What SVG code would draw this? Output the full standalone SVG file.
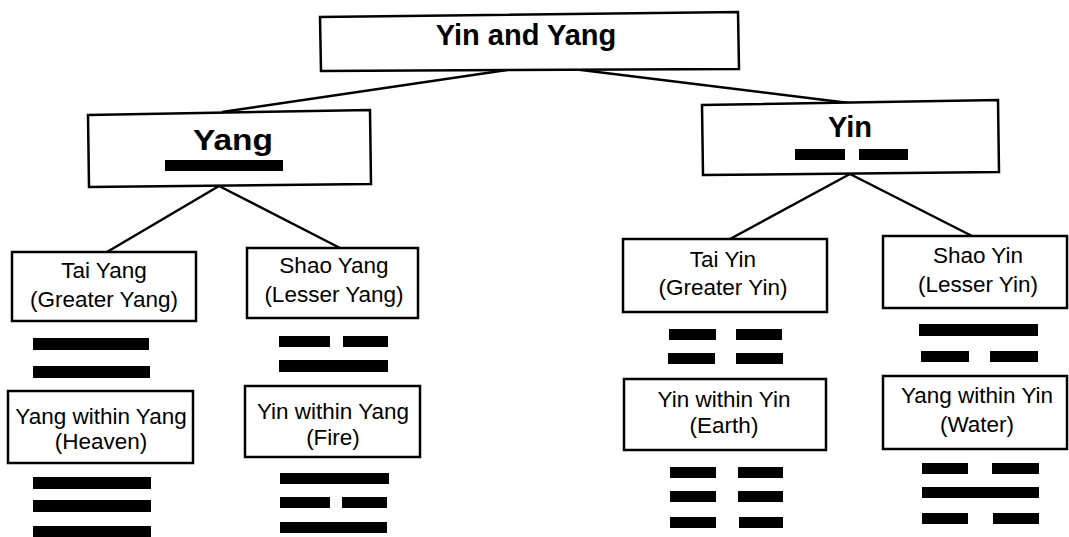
<svg xmlns="http://www.w3.org/2000/svg" width="1069" height="537" viewBox="0 0 1069 537">
<style>
.box{fill:#fff;stroke:#000;stroke-width:2.5}
.ln{stroke:#000;stroke-width:2.5;fill:none}
.t{font-family:"Liberation Sans",Arial,sans-serif;font-size:22.5px;fill:#000;text-anchor:middle}
.b{font-family:"Liberation Sans",Arial,sans-serif;font-weight:bold;font-size:29px;fill:#000;text-anchor:middle}
.bar{fill:#000}
</style>
<rect width="1069" height="537" fill="#fff"/>
<g id="connectors">
<line class="ln" x1="507" y1="70" x2="222" y2="112"/>
<line class="ln" x1="573" y1="69" x2="849" y2="103"/>
<line class="ln" x1="219" y1="186" x2="107" y2="252"/>
<line class="ln" x1="219" y1="186" x2="340" y2="248"/>
<line class="ln" x1="850" y1="174" x2="730" y2="239"/>
<line class="ln" x1="850" y1="174" x2="972" y2="236"/>
</g>
<g id="root">
<polygon class="box" points="320,17 738,12 739,69 321,71"/>
<text class="b" x="526" y="45">Yin and Yang</text>
</g>
<g id="yang">
<polygon class="box" points="88,115 370,110 371,184 89,187"/>
<text class="b" x="233" y="150" font-size="30" textLength="80" lengthAdjust="spacingAndGlyphs">Yang</text>
<rect class="bar" x="165" y="160" width="118" height="11"/>
</g>
<g id="yin">
<polygon class="box" points="702,105 998,100 999,172 703,175"/>
<text class="b" x="850" y="137">Yin</text>
<rect class="bar" x="795" y="149" width="50" height="11"/>
<rect class="bar" x="859" y="149" width="49" height="11"/>
</g>
<g id="tai-yang">
<rect class="box" x="12" y="252" width="184" height="69"/>
<text class="t" x="104" y="278">Tai Yang</text>
<text class="t" x="104" y="307">(Greater Yang)</text>
<rect class="bar" x="33" y="338" width="116" height="12"/>
<rect class="bar" x="33" y="366" width="117" height="12"/>
</g>
<g id="yang-within-yang">
<rect class="box" x="8" y="391" width="185" height="72"/>
<text class="t" x="101" y="424">Yang within Yang</text>
<text class="t" x="101" y="449">(Heaven)</text>
<rect class="bar" x="33" y="477" width="118" height="12"/>
<rect class="bar" x="33" y="500" width="118" height="12"/>
<rect class="bar" x="33" y="526" width="118" height="11"/>
</g>
<g id="shao-yang">
<rect class="box" x="247" y="248" width="171" height="70"/>
<text class="t" x="334" y="273">Shao Yang</text>
<text class="t" x="334" y="302">(Lesser Yang)</text>
<rect class="bar" x="279" y="336" width="51" height="11"/>
<rect class="bar" x="343" y="336" width="45" height="11"/>
<rect class="bar" x="279" y="360" width="109" height="12"/>
</g>
<g id="yin-within-yang">
<rect class="box" x="245" y="386" width="175" height="71"/>
<text class="t" x="333" y="419">Yin within Yang</text>
<text class="t" x="333" y="445">(Fire)</text>
<rect class="bar" x="280" y="473" width="109" height="11"/>
<rect class="bar" x="280" y="497" width="50" height="11"/>
<rect class="bar" x="342" y="497" width="45" height="11"/>
<rect class="bar" x="280" y="522" width="107" height="11"/>
</g>
<g id="tai-yin">
<rect class="box" x="623" y="239" width="204" height="73"/>
<text class="t" x="723" y="267">Tai Yin</text>
<text class="t" x="723" y="295">(Greater Yin)</text>
<rect class="bar" x="669" y="329" width="47" height="11"/>
<rect class="bar" x="736" y="329" width="46" height="11"/>
<rect class="bar" x="668" y="353" width="47" height="11"/>
<rect class="bar" x="736" y="353" width="47" height="11"/>
</g>
<g id="yin-within-yin">
<rect class="box" x="624" y="379" width="202" height="71"/>
<text class="t" x="724" y="407">Yin within Yin</text>
<text class="t" x="724" y="433">(Earth)</text>
<rect class="bar" x="670" y="467" width="46" height="11"/>
<rect class="bar" x="738" y="467" width="45" height="11"/>
<rect class="bar" x="670" y="491" width="46" height="11"/>
<rect class="bar" x="738" y="491" width="45" height="11"/>
<rect class="bar" x="670" y="517" width="46" height="11"/>
<rect class="bar" x="739" y="517" width="44" height="11"/>
</g>
<g id="shao-yin">
<rect class="box" x="883" y="236" width="184" height="72"/>
<text class="t" x="978" y="263">Shao Yin</text>
<text class="t" x="978" y="292">(Lesser Yin)</text>
<rect class="bar" x="919" y="324" width="119" height="12"/>
<rect class="bar" x="921" y="351" width="48" height="11"/>
<rect class="bar" x="990" y="351" width="48" height="11"/>
</g>
<g id="yang-within-yin">
<rect class="box" x="883" y="376" width="184" height="73"/>
<text class="t" x="977" y="403">Yang within Yin</text>
<text class="t" x="977" y="432">(Water)</text>
<rect class="bar" x="922" y="463" width="46" height="11"/>
<rect class="bar" x="992" y="463" width="47" height="11"/>
<rect class="bar" x="922" y="487" width="117" height="11"/>
<rect class="bar" x="922" y="513" width="46" height="11"/>
<rect class="bar" x="993" y="513" width="46" height="11"/>
</g>
</svg>
